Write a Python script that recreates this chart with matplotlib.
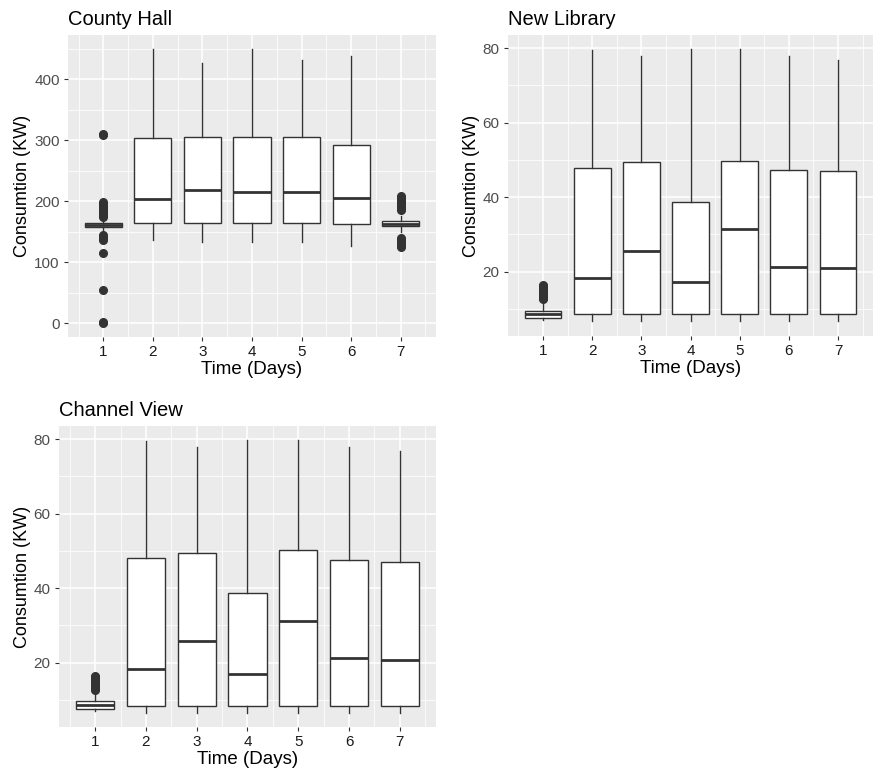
import matplotlib.pyplot as plt
import numpy as np

plt.rcParams['font.family'] = ['Liberation Sans', 'DejaVu Sans']

days = [1, 2, 3, 4, 5, 6, 7]

# County Hall box stats (KW)
ch_q1 = [157, 164, 165, 165, 165, 163, 159]
ch_med = [161, 204, 218, 215, 215, 205, 162]
ch_q3 = [165, 304, 306, 306, 306, 292, 168]
ch_lo = [150, 137, 134, 134, 134, 127, 150]
ch_hi = [172, 449, 427, 450, 431, 438, 176]
ch_out = [
    [308, 311, 175, 178, 181, 184, 187, 190, 193, 196, 198,
     145, 142, 139, 136, 116, 55, 0, 2],
    [], [], [], [], [],
    [185, 188, 191, 194, 197, 200, 203, 206, 209, 140, 136, 132, 128, 125],
]

# New Library box stats (KW)
nl_q1 = [7.5, 8.5, 8.5, 8.5, 8.5, 8.5, 8.5]
nl_med = [8.7, 18.4, 25.6, 17.1, 31.3, 21.2, 20.9]
nl_q3 = [9.3, 47.7, 49.5, 38.7, 49.8, 47.3, 47.0]
nl_lo = [7.0, 6.6, 6.6, 6.6, 6.6, 6.6, 6.6]
nl_hi = [12.0, 79.4, 77.8, 79.8, 79.8, 77.8, 76.9]
nl_out = [[12.5, 13, 13.5, 14, 14.5, 15, 15.5, 16, 16.5], [], [], [], [], [], []]

# Channel View box stats (KW)
cv_q1 = [7.5, 8.3, 8.3, 8.3, 8.3, 8.3, 8.3]
cv_med = [8.7, 18.3, 25.7, 17.0, 31.2, 21.1, 20.8]
cv_q3 = [9.7, 48.0, 49.5, 38.7, 50.2, 47.6, 47.0]
cv_lo = [7.0, 6.5, 6.5, 6.5, 6.5, 6.5, 6.5]
cv_hi = [12.0, 79.4, 77.9, 79.8, 79.8, 77.9, 76.9]
cv_out = [[12.5, 13, 13.5, 14, 14.5, 15, 15.5, 16, 16.5], [], [], [], [], [], []]

panels = [
    ("County Hall", ch_q1, ch_med, ch_q3, ch_lo, ch_hi, ch_out,
     (-22.5, 472.5), [0, 100, 200, 300, 400], [50, 150, 250, 350, 450],
     [68, 35, 436, 337]),
    ("New Library", nl_q1, nl_med, nl_q3, nl_lo, nl_hi, nl_out,
     (2.7, 83.5), [20, 40, 60, 80], [10, 30, 50, 70],
     [508, 35, 873, 336]),
    ("Channel View", cv_q1, cv_med, cv_q3, cv_lo, cv_hi, cv_out,
     (2.7, 83.5), [20, 40, 60, 80], [10, 30, 50, 70],
     [59, 426, 436, 727]),
]

W, H = 885, 776
fig = plt.figure(figsize=(W / 100, H / 100), dpi=100)

for title, q1, med, q3, lo, hi, out, ylim, major, minor, box in panels:
    l, t, r, b = box
    ax = fig.add_axes([l / W, 1 - b / H, (r - l) / W, (b - t) / H])
    ax.set_facecolor('#EBEBEB')
    for s in ax.spines.values():
        s.set_visible(False)

    stats = []
    for i in range(len(days)):
        stats.append(dict(q1=q1[i], med=med[i], q3=q3[i], whislo=lo[i],
                          whishi=hi[i], fliers=out[i]))
    ax.bxp(stats, positions=days, widths=0.75, patch_artist=True,
           showcaps=False,
           boxprops=dict(facecolor='white', edgecolor='#333333', linewidth=1.0),
           medianprops=dict(color='#333333', linewidth=2.0),
           whiskerprops=dict(color='#333333', linewidth=1.0),
           flierprops=dict(marker='o', markerfacecolor='#333333',
                           markeredgecolor='#333333', markersize=5.5))

    ax.set_xlim(0.2875, 7.7125)
    ax.set_ylim(*ylim)
    ax.set_xticks(days)
    ax.set_xticklabels([str(d) for d in days])
    ax.set_xticks(np.arange(0.5, 8, 1), minor=True)
    ax.set_yticks(major)
    ax.set_yticks(minor, minor=True)
    ax.grid(which='major', color='white', linewidth=1.1)
    ax.grid(which='minor', color='white', linewidth=0.55)
    ax.set_axisbelow(True)
    ax.tick_params(which='major', length=3, color='#333333', width=0.8,
                   labelsize=11, labelcolor='#4D4D4D', pad=3)
    ax.tick_params(axis='x', labelcolor='#1A1A1A')
    ax.tick_params(which='minor', length=0)

    ax.set_xlabel('Time (Days)', fontsize=13.5, labelpad=1)
    ax.set_ylabel('Consumtion (KW)', fontsize=13, labelpad=2)
    ax.set_title(title, loc='left', fontsize=14.5, pad=7, x=0)

fig.savefig('out.png', dpi=100, facecolor='white')
